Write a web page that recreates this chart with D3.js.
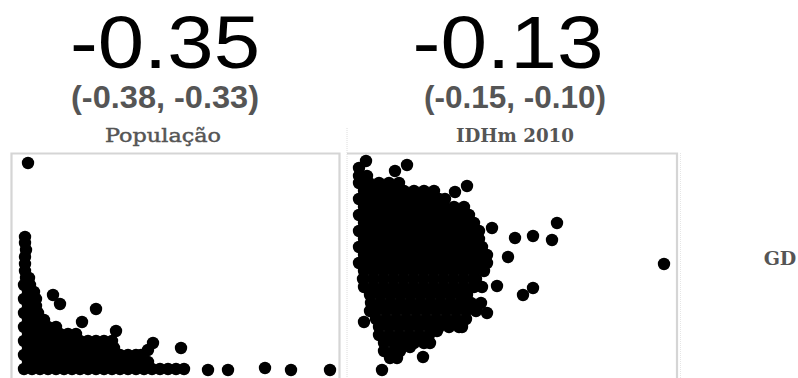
<!DOCTYPE html>
<html>
<head>
<meta charset="utf-8">
<script src="https://cdn.jsdelivr.net/npm/d3@7"></script>
<style>
  html, body { margin: 0; padding: 0; background: #fff; }
  svg { display: block; }
</style>
</head>
<body>
<svg id="chart" width="798" height="378"></svg>
<script>
// Correlation of GD with each municipal variable, with 95% interval
const variables = ["População", "IDHm 2010"];
const rowLabel = "GD";
const correlations = [-0.35, -0.13];
const intervalLow = [-0.38, -0.15];
const intervalHigh = [-0.33, -0.10];

// GD against População (scaled index units)
const populacaoGD = [
  [3,1],[11,1],[19,1],[27,1],[35,1],[43,1],[51,1],[59,1],[67,1],[75,1],[83,1],[91,1],[99,1],[107,1],[115,1],[123,1],[131,1],[139,1],[147,1],[155,1],[163,1],
  [7,8],[15,8],[23,8],[31,8],[39,8],[47,8],[55,8],[63,8],[71,8],[79,8],[87,8],[95,8],[103,8],[111,8],[119,8],[127,8],
  [3,15],[11,15],[19,15],[27,15],[35,15],[43,15],[51,15],[59,15],[67,15],[75,15],[83,15],[91,15],[99,15],[107,15],[115,15],[120,15],
  [7,22],[15,22],[23,22],[31,22],[39,22],[47,22],[55,22],[63,22],[71,22],[79,22],[87,22],[93,22],
  [3,29],[11,29],[19,29],[27,29],[35,29],[43,29],[51,29],[59,29],[67,29],[75,29],[83,29],[91,29],
  [7,36],[15,36],[23,36],[31,36],[39,36],[47,36],[55,36],
  [3,43],[11,43],[19,43],[27,43],[35,43],
  [7,50],[15,50],[23,50],
  [3,57],[11,57],[17,57],
  [7,64],[15,64],
  [3,71],[11,71],[15,71],
  [7,78],[13,78],
  [3,85],[9,85],
  [5,92],[8,92],
  [4,99],[4,106],[4,113],[5,120],[4,127],[4,133],
  [7,207],[32,75],[39,66],[61,48],[75,61],[95,39],[132,27],[127,20],[160,22],
  [187,0],[207,0],[244,2],[270,0],[309,0]
];

// GD against IDHm 2010 (scaled index units)
const idhmGD = [
  [2,202],
  [2,194],[10,194],
  [2,187],[12,187],[22,187],[32,187],[42,187],
  [7,179],[17,179],[27,179],[37,179],[47,179],[57,179],[67,179],[77,179],
  [2,171],[12,171],[22,171],[32,171],[42,171],[52,171],[62,171],[72,171],[82,171],[88,171],
  [7,163],[17,163],[27,163],[37,163],[47,163],[57,163],[67,163],[77,163],[87,163],[97,163],[107,163],
  [2,155],[12,155],[22,155],[32,155],[42,155],[52,155],[62,155],[72,155],[82,155],[92,155],[102,155],[112,155],
  [7,147],[17,147],[27,147],[37,147],[47,147],[57,147],[67,147],[77,147],[87,147],[97,147],[107,147],[117,147],
  [2,139],[12,139],[22,139],[32,139],[42,139],[52,139],[62,139],[72,139],[82,139],[92,139],[102,139],[112,139],[122,139],
  [7,131],[17,131],[27,131],[37,131],[47,131],[57,131],[67,131],[77,131],[87,131],[97,131],[107,131],[117,131],[122,131],
  [2,123],[12,123],[22,123],[32,123],[42,123],[52,123],[62,123],[72,123],[82,123],[92,123],[102,123],[112,123],[122,123],[125,123],
  [7,115],[17,115],[27,115],[37,115],[47,115],[57,115],[67,115],[77,115],[87,115],[97,115],[107,115],[117,115],[127,115],[130,115],
  [2,107],[12,107],[22,107],[32,107],[42,107],[52,107],[62,107],[72,107],[82,107],[92,107],[102,107],[112,107],[122,107],[130,107],
  [7,99],[17,99],[27,99],[37,99],[47,99],[57,99],[67,99],[77,99],[87,99],[97,99],[107,99],[117,99],[127,99],
  [6,91],[16,91],[26,91],[36,91],[46,91],[56,91],[66,91],[76,91],[86,91],[96,91],[106,91],[116,91],[119,91],
  [7,83],[17,83],[27,83],[37,83],[47,83],[57,83],[67,83],[77,83],[87,83],[97,83],[107,83],[117,83],
  [13,75],[23,75],[33,75],[43,75],[53,75],[63,75],[73,75],[83,75],[93,75],[103,75],[110,75],
  [14,67],[24,67],[34,67],[44,67],[54,67],[64,67],[74,67],[84,67],[94,67],[104,67],[114,67],[124,67],
  [13,59],[19,59],[29,59],[39,59],[49,59],[59,59],[69,59],[79,59],[89,59],[99,59],[109,59],[119,59],
  [19,51],[29,51],[39,51],[49,51],[59,51],[69,51],[79,51],[89,51],[99,51],[109,51],
  [22,43],[32,43],[42,43],[52,43],[62,43],[72,43],[82,43],[92,43],[102,43],[105,43],
  [80,39],
  [22,35],[32,35],[42,35],[52,35],[62,35],[72,35],
  [27,27],[37,27],[47,27],[57,27],[67,27],[73,27],
  [53,23],
  [27,19],[37,19],[43,19],
  [33,12],[40,12],
  [9,209],[38,199],[50,205],[98,178],[110,184],[135,142],[125,83],[140,84],[130,57],
  [7,48],[66,13],[25,0],[200,147],[158,132],[176,134],[195,130],[151,113],
  [166,75],[176,82],[307,106]
];

const fmt = d3.formatLocale({ decimal: ".", thousands: ",", grouping: [3], currency: ["", ""], minus: "-" }).format(".2f");

const svg = d3.select("#chart");

const panels = [
  { data: populacaoGD, left: 11.5, right: 339.5, xr: [21, 331], corrX: 165, ciX: 165, labX: 163, solidLeft: true },
  { data: idhmGD, left: 347, right: 677, xr: [357, 667], corrX: 508, ciX: 515, labX: 515, solidLeft: false }
];
const panelTop = 153.5, panelBottom = 395;
const y = d3.scaleLinear().domain([0, 210]).range([370, 160]);

panels.forEach((p, i) => {
  const x = d3.scaleLinear().domain([0, 310]).range(p.xr);
  const g = svg.append("g");

  // frame
  const frame = d3.path();
  frame.moveTo(p.left, panelBottom);
  if (p.solidLeft) frame.lineTo(p.left, panelTop); else frame.moveTo(p.left, panelTop);
  frame.lineTo(p.right, panelTop);
  frame.lineTo(p.right, panelBottom);
  g.append("path").attr("d", frame.toString())
    .attr("fill", "none").attr("stroke", "#d5d5d5").attr("stroke-width", 2.2);
  if (!p.solidLeft) {
    g.append("line").attr("x1", p.left).attr("x2", p.left).attr("y1", 128).attr("y2", panelBottom)
      .attr("stroke", "#dcdcdc").attr("stroke-width", 1).attr("stroke-dasharray", "1,1");
  }

  // points
  g.append("g").selectAll("circle").data(p.data).join("circle")
    .attr("cx", d => x(d[0])).attr("cy", d => y(d[1])).attr("r", 6.2)
    .attr("fill", "#000");

  // correlation header
  svg.append("text").attr("x", p.corrX).attr("y", 68)
    .attr("text-anchor", "middle").attr("font-family", "'Liberation Sans', Arial, sans-serif")
    .attr("font-size", 75).attr("fill", "#000")
    .attr("textLength", i === 0 ? 190 : 191).attr("lengthAdjust", "spacingAndGlyphs")
    .text(fmt(correlations[i]));

  svg.append("text").attr("x", p.ciX).attr("y", 108)
    .attr("text-anchor", "middle").attr("font-family", "'Liberation Sans', Arial, sans-serif")
    .attr("font-size", 32).attr("font-weight", "bold").attr("fill", "#555")
    .attr("textLength", i === 0 ? 188 : 182).attr("lengthAdjust", "spacingAndGlyphs")
    .text(`(${fmt(intervalLow[i])}, ${fmt(intervalHigh[i])})`);

  svg.append("text").attr("x", p.labX).attr("y", 142)
    .attr("text-anchor", "middle").attr("font-family", "'DejaVu Serif', serif")
    .attr("font-size", 19).attr("font-weight", i === 0 ? "normal" : "bold").attr("fill", "#555")
    .attr("stroke", i === 0 ? "#555" : "none").attr("stroke-width", 0.45)
    .attr("textLength", i === 0 ? 116 : 118).attr("lengthAdjust", "spacingAndGlyphs")
    .text(variables[i]);
});

// faint outer edge beside the second panel
svg.append("line").attr("x1", 680.5).attr("x2", 680.5).attr("y1", 153).attr("y2", 378)
  .attr("stroke", "#e6e6e6").attr("stroke-width", 1).attr("stroke-dasharray", "1,1");

// row label
svg.append("text").attr("x", 780).attr("y", 265)
  .attr("text-anchor", "middle").attr("font-family", "'DejaVu Serif', serif")
  .attr("font-size", 19).attr("font-weight", "bold").attr("fill", "#555")
  .text(rowLabel);
</script>
</body>
</html>
